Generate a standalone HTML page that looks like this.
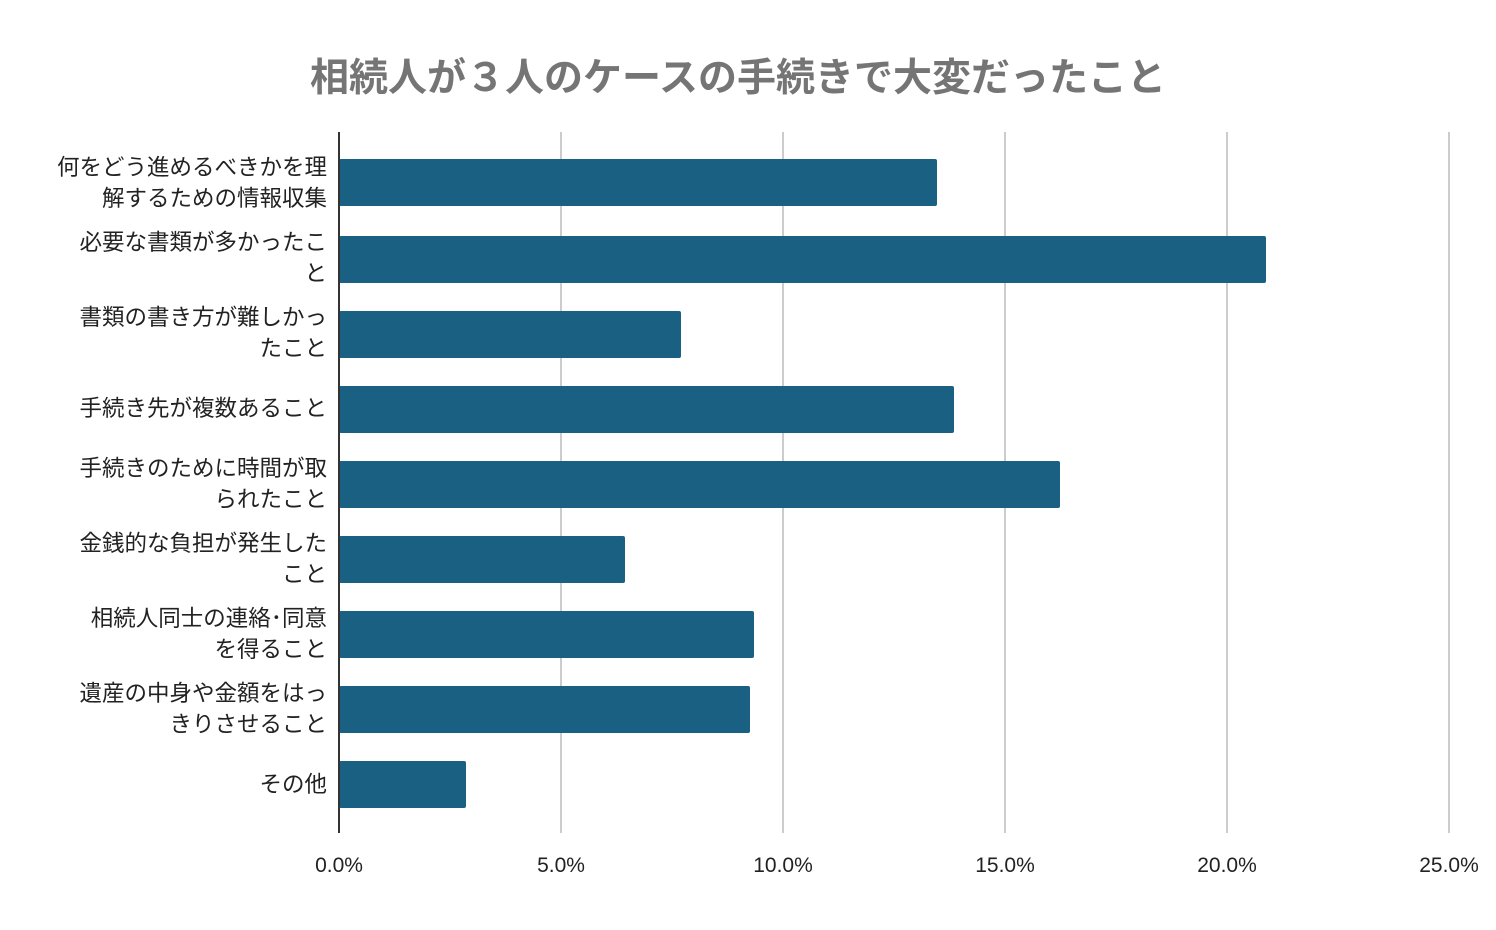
<!DOCTYPE html>
<html><head><meta charset="utf-8"><style>
body{margin:0;background:#fff;}
svg text{font-family:"Liberation Sans","Noto Sans CJK JP",sans-serif;}
</style></head><body>
<svg width="1496" height="925" xmlns="http://www.w3.org/2000/svg">
<rect width="1496" height="925" fill="#fff"/>
<text x="738" y="91" text-anchor="middle" font-size="39" font-weight="bold" fill="#757575">相続人が３人のケースの手続きで大変だったこと</text>
<g stroke="#cccccc" stroke-width="2">
<line x1="561" y1="132" x2="561" y2="833"/>
<line x1="783" y1="132" x2="783" y2="833"/>
<line x1="1005" y1="132" x2="1005" y2="833"/>
<line x1="1227" y1="132" x2="1227" y2="833"/>
<line x1="1449" y1="132" x2="1449" y2="833"/>
</g>
<g fill="#1a6082">
<rect x="339" y="159" width="598" height="47" rx="2"/>
<rect x="339" y="236" width="927" height="47" rx="2"/>
<rect x="339" y="311" width="342" height="47" rx="2"/>
<rect x="339" y="386" width="615" height="47" rx="2"/>
<rect x="339" y="461" width="721" height="47" rx="2"/>
<rect x="339" y="536" width="286" height="47" rx="2"/>
<rect x="339" y="611" width="415" height="47" rx="2"/>
<rect x="339" y="686" width="411" height="47" rx="2"/>
<rect x="339" y="761" width="127" height="47" rx="2"/>
</g>
<line x1="339" y1="132" x2="339" y2="833" stroke="#333" stroke-width="2"/>
<g font-size="22.5" fill="#222" text-anchor="end">
<text x="327" y="175">何をどう進めるべきかを理</text>
<text x="327" y="206">解するための情報収集</text>
<text x="327" y="250">必要な書類が多かったこ</text>
<text x="327" y="281">と</text>
<text x="327" y="325">書類の書き方が難しかっ</text>
<text x="327" y="356">たこと</text>
<text x="327" y="416">手続き先が複数あること</text>
<text x="327" y="476">手続きのために時間が取</text>
<text x="327" y="507">られたこと</text>
<text x="327" y="551">金銭的な負担が発生した</text>
<text x="327" y="582">こと</text>
<text x="327" y="626">相続人同士の連絡･同意</text>
<text x="327" y="657">を得ること</text>
<text x="327" y="701">遺産の中身や金額をはっ</text>
<text x="327" y="732">きりさせること</text>
<text x="327" y="792">その他</text>
</g>
<g font-size="21" fill="#222" text-anchor="middle">
<text x="339" y="872">0.0%</text>
<text x="561" y="872">5.0%</text>
<text x="783" y="872">10.0%</text>
<text x="1005" y="872">15.0%</text>
<text x="1227" y="872">20.0%</text>
<text x="1449" y="872">25.0%</text>
</g>
</svg>
</body></html>
